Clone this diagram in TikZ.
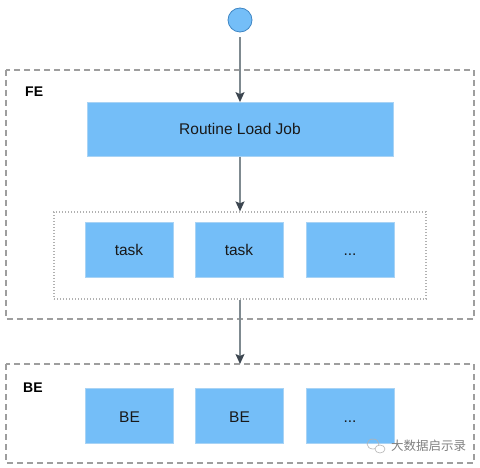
\documentclass[tikz,border=0pt]{standalone}
\usepackage{fontspec}
\setmainfont{Liberation Sans}
\newfontfamily\cjk{Noto Sans CJK SC}
\usetikzlibrary{arrows.meta}
\definecolor{boxfill}{HTML}{74BEF8}
\definecolor{boxline}{HTML}{A8D3F5}
\definecolor{circline}{HTML}{3F86C4}
\definecolor{grpline}{HTML}{9E9E9E}
\definecolor{arrline}{HTML}{7F8A90}
\definecolor{arrtip}{HTML}{3C4650}
\tikzset{
  bluebox/.style={draw=boxline, line width=0.8pt, fill=boxfill, minimum width=#1, minimum height=55pt, inner sep=0pt, text height=14pt, text depth=1pt, font=\fontsize{15.5}{18}\selectfont, text=black!90},
  bluebox/.default=88pt,
  grpbox/.style={draw=grpline, line width=1.5pt, dash pattern=on 6pt off 4pt},
  dotbox/.style={draw=grpline!80, line width=1.2pt, dash pattern=on 1.2pt off 1.8pt},
  flow/.style={draw=arrline, line width=1.3pt, -{Stealth[length=10pt,width=9pt,inset=2pt,color=arrtip]}},
  grplabel/.style={font=\bfseries\fontsize{14}{17}\selectfont, anchor=base west, inner sep=0pt}
}
\begin{document}
\begin{tikzpicture}[x=1pt,y=-1pt]
\useasboundingbox (0,0) rectangle (480,468);
% outer groups
\draw[grpbox] (6,70) rectangle (474,319);
\node[grplabel] (felabel) at (25,96.7) {FE};
\draw[grpbox] (6,364) rectangle (474,463);
\node (be) at (240,364) {};
\node[grplabel] (belabel) at (23,392.3) {BE};
% start circle
\node[circle, draw=circline, line width=0.8pt, fill=boxfill, minimum size=24pt, inner sep=0pt] (start) at (240,20) {};
% routine load job
\node[bluebox=306pt, minimum height=54pt, text height=12.6pt, text depth=3pt] (routine) at (240,129.5) {Routine Load Job};
% task group
\node[dotbox, minimum width=372pt, minimum height=87pt, inner sep=0pt] (tasks) at (240,255.5) {};
\node[bluebox] (t1) at (129,249.5) {task};
\node[bluebox] (t2) at (239,249.5) {task};
\node[bluebox] (t3) at (350,249.5) {...};
% BE nodes
\node[bluebox] (b1) at (129.5,415.5) {BE};
\node[bluebox] (b2) at (239.5,415.5) {BE};
\node[bluebox] (b3) at (350,415.5) {...};
% connectors
\draw[flow] (start.south) ++(0,5) -- (routine.north);
\draw[flow] (routine.south) -- (tasks.north);
\draw[flow] (tasks.south) -- (be.center);
% watermark
\node[inner sep=0pt, text=black!50, font=\cjk\fontsize{12.5}{14}\selectfont, anchor=west] (wm) at (391,446) {大数据启示录};
\draw[black!30, line width=0.6pt] (373,444) ellipse (6pt and 5pt);
\draw[black!30, line width=0.6pt, fill=white] (380,449) ellipse (5pt and 4pt);
\end{tikzpicture}
\end{document}
